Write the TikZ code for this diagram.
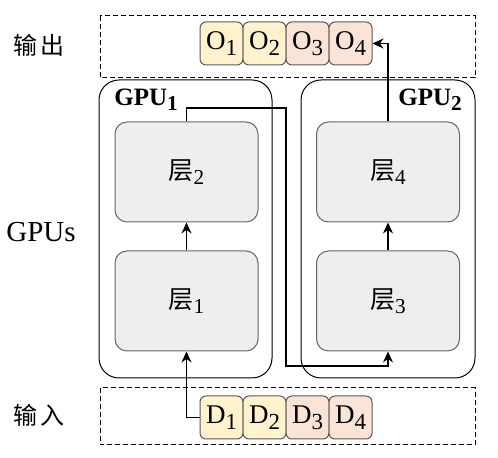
\documentclass[tikz,border=0pt]{standalone}
\usepackage{fontspec}
\setmainfont{Liberation Serif}
\newfontfamily\cjk{Noto Sans CJK SC}
\usepackage{graphicx}
\usetikzlibrary{arrows.meta}
\newcommand\sbs[1]{\raisebox{-0.45ex}{\scalebox{0.85}{#1}}}
\definecolor{ylw}{HTML}{FFF2CC}
\definecolor{pnk}{HTML}{FBE3D6}
\definecolor{lay}{HTML}{EEEEEE}
\tikzset{
  arr/.style={line width=0.75pt,-{Stealth[length=5.5pt,width=5pt]}},
  grp/.style={draw,dash pattern=on 2.5pt off 1.5pt,line width=0.5pt},
  gpubox/.style={draw,line width=0.5pt,rounded corners=10pt},
  laybox/.style={draw=black!60,fill=lay,line width=0.5pt,rounded corners=6pt,minimum width=71.5pt,minimum height=50pt},
  cell/.style={draw=black!65,line width=0.5pt,rounded corners=3pt,minimum width=21.5pt,minimum height=21.5pt,inner sep=0pt,font=\fontsize{13.5}{15}\selectfont},
  lbl/.style={font=\fontsize{12}{14}\selectfont},
  laylbl/.style={font=\fontsize{12.5}{14}\selectfont},
}
\begin{document}
\begin{tikzpicture}[x=0.5pt,y=-0.5pt]
\useasboundingbox (0,0) rectangle (498,458);
% group boxes
\draw[grp] (100,16) rectangle (475,78);
\draw[grp] (100,388) rectangle (475,445);
\draw[gpubox] (99,80) rectangle (272,378);
\draw[gpubox] (301,80) rectangle (475,378);
% side labels
\node[lbl] (lout) at (39,45) {\cjk 输\,出};
\node[font=\fontsize{14.5}{16}\selectfont] (lgpu) at (41,232) {GPUs};
\node[lbl] (lin) at (39,415) {\cjk 输\,入};
% GPU labels
\node[font=\bfseries\fontsize{12.5}{14}\selectfont] (g1) at (146,100) {GPU\sbs{1}};
\node[font=\bfseries\fontsize{12.5}{14}\selectfont] (g2) at (430,100) {GPU\sbs{2}};
% layers
\node[laybox] (L2) at (186.5,172) {};
\node[laybox] (L1) at (186.5,301) {};
\node[laybox] (L4) at (388,172) {};
\node[laybox] (L3) at (388,301) {};
\node[laylbl] (t2) at (L2) {{\cjk 层}\sbs{2}};
\node[laylbl] (t1) at (L1) {{\cjk 层}\sbs{1}};
\node[laylbl] (t4) at (L4) {{\cjk 层}\sbs{4}};
\node[laylbl] (t3) at (L3) {{\cjk 层}\sbs{3}};
% outputs
\node[cell,fill=ylw] (O1) at (221.5,43.5) {O\sbs{1}};
\node[cell,fill=ylw] (O2) at (264.5,43.5) {O\sbs{2}};
\node[cell,fill=pnk] (O3) at (307.5,43.5) {O\sbs{3}};
\node[cell,fill=pnk] (O4) at (350.5,43.5) {O\sbs{4}};
% inputs
\node[cell,fill=ylw] (D1) at (221.5,417.5) {D\sbs{1}};
\node[cell,fill=ylw] (D2) at (264.5,417.5) {D\sbs{2}};
\node[cell,fill=pnk] (D3) at (307.5,417.5) {D\sbs{3}};
\node[cell,fill=pnk] (D4) at (350.5,417.5) {D\sbs{4}};
% connectors
\coordinate (c1) at (286,108);
\coordinate (c2) at (286,366);
\draw[arr] (D1.west) -| (L1.south);
\draw[arr] (L1.north) -- (L2.south);
\draw[arr] (L2.north) |- (c1) -- (c2) -| (L3.south);
\draw[arr] (L3.north) -- (L4.south);
\draw[arr] (L4.north) |- (O4.east);
\end{tikzpicture}
\end{document}
